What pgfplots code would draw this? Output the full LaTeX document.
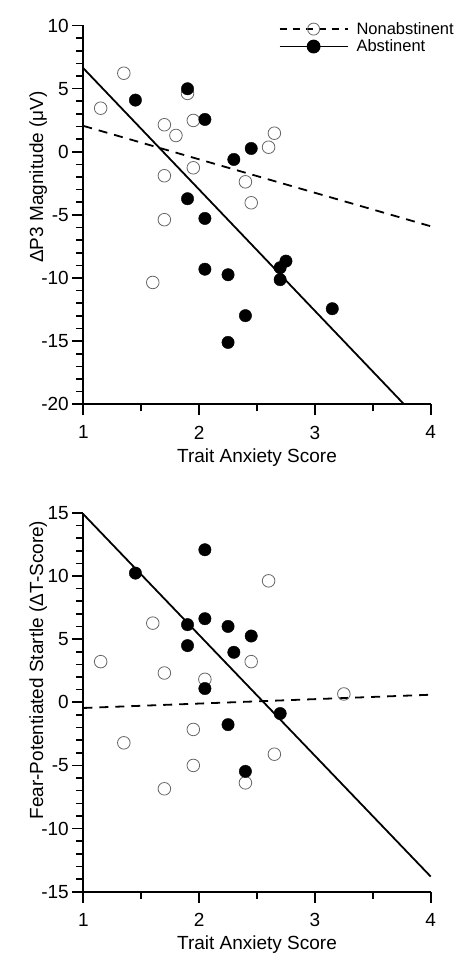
\documentclass[border=0pt]{standalone}
\usepackage{fontspec}
\setmainfont{Liberation Sans}
\usepackage{pgfplots}
\usepackage{pgfplotstable}
\pgfplotsset{compat=1.18}

\pgfplotstableread{
x y
1.35 6.22
1.15 3.45
1.90 4.62
1.70 2.14
1.95 2.48
1.80 1.29
2.65 1.47
2.60 0.36
1.95 -1.27
1.70 -1.90
2.40 -2.38
2.45 -4.04
1.70 -5.38
1.60 -10.35
}\topopen

\pgfplotstableread{
x y
1.90 4.99
1.45 4.09
2.05 2.56
2.45 0.26
2.30 -0.61
1.90 -3.72
2.05 -5.28
2.05 -9.30
2.25 -9.74
2.75 -8.66
2.70 -9.18
2.70 -10.13
3.15 -12.43
2.40 -12.98
2.25 -15.10
}\topfilled

\pgfplotstableread{
x y
2.60 9.62
1.60 6.27
1.15 3.22
1.70 2.32
2.05 1.82
2.45 3.22
3.25 0.66
1.95 -2.15
1.35 -3.21
2.65 -4.11
1.95 -5.00
2.40 -6.38
1.70 -6.85
}\botopen

\pgfplotstableread{
x y
2.05 12.08
1.45 10.23
1.90 6.15
2.05 6.62
2.25 6.01
2.45 5.25
1.90 4.49
2.30 3.96
2.05 1.09
2.70 -0.89
2.25 -1.77
2.40 -5.47
}\botfilled

\begin{document}
\begin{tikzpicture}
\pgfplotsset{
 panel/.style={
  scale only axis, width=347.4bp, height=378.8bp,
  xmin=1, xmax=4,
  axis x line*=bottom, axis y line*=left,
  axis line style={line width=1.6bp, -},
  tick align=outside,
  major tick length=11bp, minor tick length=7bp,
  every tick/.style={black, line width=1.6bp},
  xtick={1,2,3,4}, xticklabels={1,2,3,4}, minor x tick num=1,
  minor y tick num=4,
  tick label style={font=\fontsize{19bp}{22bp}\selectfont},
  xticklabel style={yshift=-7bp},
  xlabel={Trait Anxiety Score},
  every axis x label/.style={at={(axis description cs:0.5,0)}, anchor=base, yshift=-58bp, font=\fontsize{19bp}{22bp}\selectfont},
  clip=false,
 },
 openmk/.style={only marks, mark=o, mark size=6.3bp, mark options={draw=black!60, line width=0.8bp}},
 fillmk/.style={only marks, mark=*, mark size=6.2bp, mark options={fill=black, draw=black}},
 solidln/.style={black, line width=1.8bp, mark=none},
 dashln/.style={black, line width=1.8bp, mark=none, dash pattern=on 9bp off 7bp},
}
% top panel
\begin{axis}[panel, at={(0,487.4bp)}, anchor=south west,
  ymin=-20, ymax=10, ytick={-20,-15,-10,-5,0,5,10}, yticklabels={-20,-15,-10,-5,0,5,10},
  ylabel={ΔP3 Magnitude (μV)},
  every axis y label/.style={at={(axis description cs:-0.13,0.6)}, rotate=90, anchor=center, font=\fontsize{19bp}{22bp}\selectfont},
  legend style={draw=none, fill=none, at={(axis description cs:0.562,1.014)}, anchor=north west,
    font=\fontsize{16.5bp}{19bp}\selectfont, inner sep=0bp, row sep=0bp, column sep=6bp},
  legend cell align=left,
  legend image code/.code={\draw[mark repeat=2, mark phase=2, #1] plot coordinates {(0bp,0bp) (34bp,0bp) (68bp,0bp)};},
]
\addlegendimage{black, line width=1.8bp, dash pattern=on 7bp off 6bp, mark=o, mark size=6bp, mark options={solid, draw=black!60, line width=0.8bp}}
\addlegendentry{Nonabstinent}
\addlegendimage{black, line width=1.8bp, mark=*, mark size=6bp, mark options={fill=black}}
\addlegendentry{Abstinent}
\addplot[dashln, forget plot] coordinates {(1,2.05) (4,-5.9)};
\addplot[solidln, forget plot] coordinates {(1,6.62) (3.77,-20)};
\addplot[openmk, forget plot] table[x=x,y=y] {\topopen};
\addplot[fillmk, forget plot] table[x=x,y=y] {\topfilled};
\end{axis}
% bottom panel
\begin{axis}[panel, at={(0,0)}, anchor=south west,
  ymin=-15, ymax=15, ytick={-15,-10,-5,0,5,10,15}, yticklabels={-15,-10,-5,0,5,10,15},
  ylabel={Fear-Potentiated Startle (ΔT-Score)},
  every axis y label/.style={at={(axis description cs:-0.13,0.585)}, rotate=90, anchor=center, font=\fontsize{19bp}{22bp}\selectfont},
]
\addplot[dashln] coordinates {(1,-0.45) (4,0.6)};
\addplot[solidln] coordinates {(1,14.9) (4,-13.8)};
\addplot[openmk] table[x=x,y=y] {\botopen};
\addplot[fillmk] table[x=x,y=y] {\botfilled};
\end{axis}
\pgfresetboundingbox
\path[use as bounding box] (-83.3bp,-61.3bp) rectangle (379.7bp,891.7bp);
\end{tikzpicture}
\end{document}
